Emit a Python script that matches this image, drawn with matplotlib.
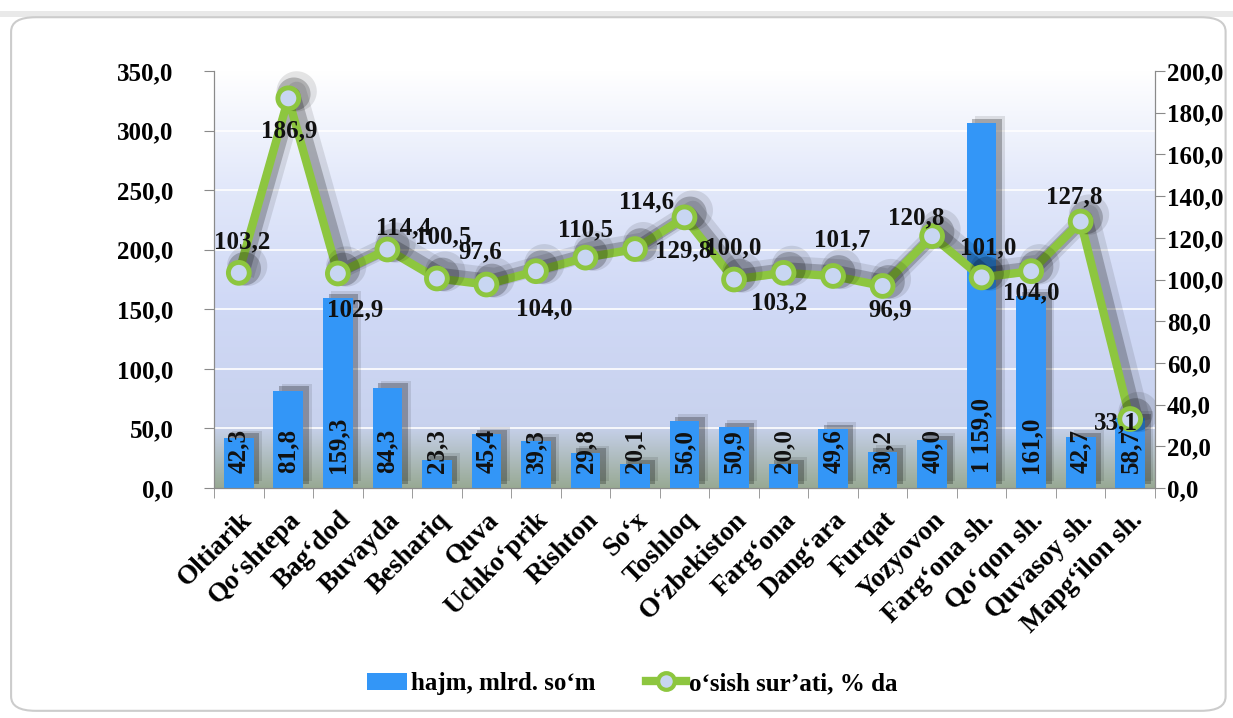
import numpy as np
import matplotlib
matplotlib.use("Agg")
import matplotlib.pyplot as plt
import matplotlib.patheffects as pe
from matplotlib.colors import LinearSegmentedColormap
from matplotlib.patches import FancyBboxPatch, Patch
from matplotlib.lines import Line2D

# ---------------- data ----------------
categories = ["Oltiarik", "Qo‘shtepa", "Bag‘dod", "Buvayda", "Beshariq", "Quva",
              "Uchko‘prik", "Rishton", "So‘x", "Toshloq", "O‘zbekiston", "Farg‘ona",
              "Dang‘ara", "Furqat", "Yozyovon", "Farg‘ona sh.", "Qo‘qon sh.",
              "Quvasoy sh.", "Mapg‘ilon sh."]
# bar heights as drawn in the picture (Farg‘ona sh. bar is drawn short of its label)
hajm = [42.3, 81.8, 159.3, 84.3, 23.3, 45.4, 39.3, 29.8, 20.1, 56.0, 50.9, 20.0,
        49.6, 30.2, 40.0, 306.5, 161.0, 42.7, 58.7]
hajm_labels = ["42,3", "81,8", "159,3", "84,3", "23,3", "45,4", "39,3", "29,8", "20,1",
               "56,0", "50,9", "20,0", "49,6", "30,2", "40,0", "1 159,0", "161,0",
               "42,7", "58,7"]
osish = [103.2, 186.9, 102.9, 114.4, 100.5, 97.6, 104.0, 110.5, 114.6, 129.8, 100.0,
         103.2, 101.7, 96.9, 120.8, 101.0, 104.0, 127.8, 33.1]
left_ticks = [0, 50, 100, 150, 200, 250, 300, 350]
right_ticks = [0, 20, 40, 60, 80, 100, 120, 140, 160, 180, 200]
legend_labels = ["hajm, mlrd. so‘m", "o‘sish sur’ati, % da"]

# ---------------- style ----------------
FONT = "Liberation Serif"
FS = 18
FS_CAT = 19.5
BAR_C = "#3396f7"
LINE_C = "#8dc63f"
MARK_FACE = "#c8d6f2"

# label offsets (pixels) for line labels
lab_off = [(3, 31), (1, -32), (17, -36), (16, 22), (6, 42), (-6, 33), (8, -38),
           (0, 28), (12, 47), (-1, -33), (-1, 32), (-4, -30), (9, 36), (8, -24),
           (-16, 18), (7, 30), (0, -22), (-6, 25), (-14, -4)]

fig = plt.figure(figsize=(12.33, 7.18), dpi=100)
fig.patch.set_facecolor("white")

# outer frame
fig.patches.append(FancyBboxPatch((0.0, 0.976), 1.0, 0.008, boxstyle="square,pad=0",
                                  transform=fig.transFigure, facecolor="#e9e9e9",
                                  edgecolor="none", zorder=-2))
fig.patches.append(FancyBboxPatch((0.009, 0.01), 0.985, 0.966,
                                  boxstyle="round,pad=0,rounding_size=0.02",
                                  transform=fig.transFigure, facecolor="white",
                                  edgecolor="#cccccc", linewidth=1.5, zorder=-1))

ax = fig.add_axes([0.1736, 0.3203, 0.7631, 0.5808])
ax.set_facecolor("none")
x = np.arange(len(categories))
ax.set_xlim(-0.5, len(categories) - 0.5)
ax.set_ylim(0, 350)

# gradient background
cmap = LinearSegmentedColormap.from_list("bg", [(0.0, "#98a994"), (0.15, "#c8d2ee"),
                                                (0.45, "#d0d9f6"), (0.72, "#e2e8fa"),
                                                (1.0, "#ffffff")])
grad = np.linspace(0, 1, 256).reshape(-1, 1)
ax.imshow(grad, extent=[0, 1, 0, 1], transform=ax.transAxes, aspect="auto",
          cmap=cmap, origin="lower", zorder=0)

# gridlines
for t in left_ticks[1:]:
    ax.axhline(t, color="white", lw=1.2, zorder=1)

# bars with shadow
shadow = [pe.SimplePatchShadow(offset=(6, 5), shadow_rgbFace="k", alpha=0.10),
          pe.SimplePatchShadow(offset=(4, 3), shadow_rgbFace="k", alpha=0.25),
          pe.Normal()]
bars = ax.bar(x, hajm, width=0.6, color=BAR_C, zorder=2)
for b in bars:
    b.set_path_effects(shadow)

for xi, lab in zip(x, hajm_labels):
    ax.annotate(lab, (xi, 0), xytext=(0, 15), textcoords="offset pixels",
                rotation=90, ha="center", va="bottom", fontsize=FS,
                fontfamily=FONT, fontweight="bold", color="#111111", zorder=5)

ax.set_yticks(left_ticks)
ax.set_yticklabels([f"{v:.1f}".replace(".", ",") for v in left_ticks])
ax.set_xticks(x)
ax.set_xticklabels(categories, rotation=45, ha="right", rotation_mode="anchor")
ax.set_xticks(np.arange(-0.5, len(categories)), minor=True)
ax.tick_params(axis="x", which="major", length=0, pad=14)
ax.tick_params(axis="x", which="minor", length=7, color="#8a8a8a")
ax.tick_params(axis="y", length=7, color="#8a8a8a", pad=22)
for lab in ax.get_yticklabels():
    lab.set_fontfamily(FONT)
    lab.set_fontweight("bold")
    lab.set_fontsize(FS)
for lab in ax.get_xticklabels():
    lab.set_fontfamily(FONT)
    lab.set_fontweight("bold")
    lab.set_fontsize(FS_CAT)
ax.spines["top"].set_visible(False)
for s in ["left", "right", "bottom"]:
    ax.spines[s].set_color("#8a8a8a")

# line on secondary axis
ax2 = ax.twinx()
ax2.set_ylim(0, 200)
line_fx = [pe.SimpleLineShadow(offset=(6, 5), shadow_color="k", alpha=0.10, linewidth=14),
           pe.SimpleLineShadow(offset=(4, 3), shadow_color="k", alpha=0.22, linewidth=9),
           pe.Normal()]
ln, = ax2.plot(x, osish, color=LINE_C, lw=6, marker="o", markersize=15,
               markerfacecolor=MARK_FACE, markeredgecolor=LINE_C, markeredgewidth=3.5,
               zorder=3, path_effects=line_fx)
for xi, v, (dx, dy) in zip(x, osish, lab_off):
    ax2.annotate(f"{v:.1f}".replace(".", ","), (xi, v), xytext=(dx, dy),
                 textcoords="offset pixels", ha="center", va="center", fontsize=FS,
                 fontfamily=FONT, fontweight="bold", color="#111111", zorder=6)
ax2.set_yticks(right_ticks)
ax2.set_yticklabels([f"{v:.1f}".replace(".", ",") for v in right_ticks])
ax2.tick_params(axis="y", length=7, color="#8a8a8a", pad=1.5)
for lab in ax2.get_yticklabels():
    lab.set_fontfamily(FONT)
    lab.set_fontweight("bold")
    lab.set_fontsize(FS)
ax2.spines["top"].set_visible(False)
for s in ["left", "right", "bottom"]:
    ax2.spines[s].set_color("#8a8a8a")

# legend
h_bar = Patch(facecolor=BAR_C, edgecolor="none")
h_line = Line2D([], [], color=LINE_C, lw=6, marker="o", markersize=12,
                markerfacecolor=MARK_FACE, markeredgecolor=LINE_C, markeredgewidth=3)
fig.legend([h_bar, h_line], legend_labels, loc="center", bbox_to_anchor=(0.513, 0.048),
           ncol=2, frameon=False, handlelength=1.6, columnspacing=2.0,
           handletextpad=0.15,
           prop={"family": FONT, "weight": "bold", "size": FS})

fig.savefig("out.png", dpi=100)
